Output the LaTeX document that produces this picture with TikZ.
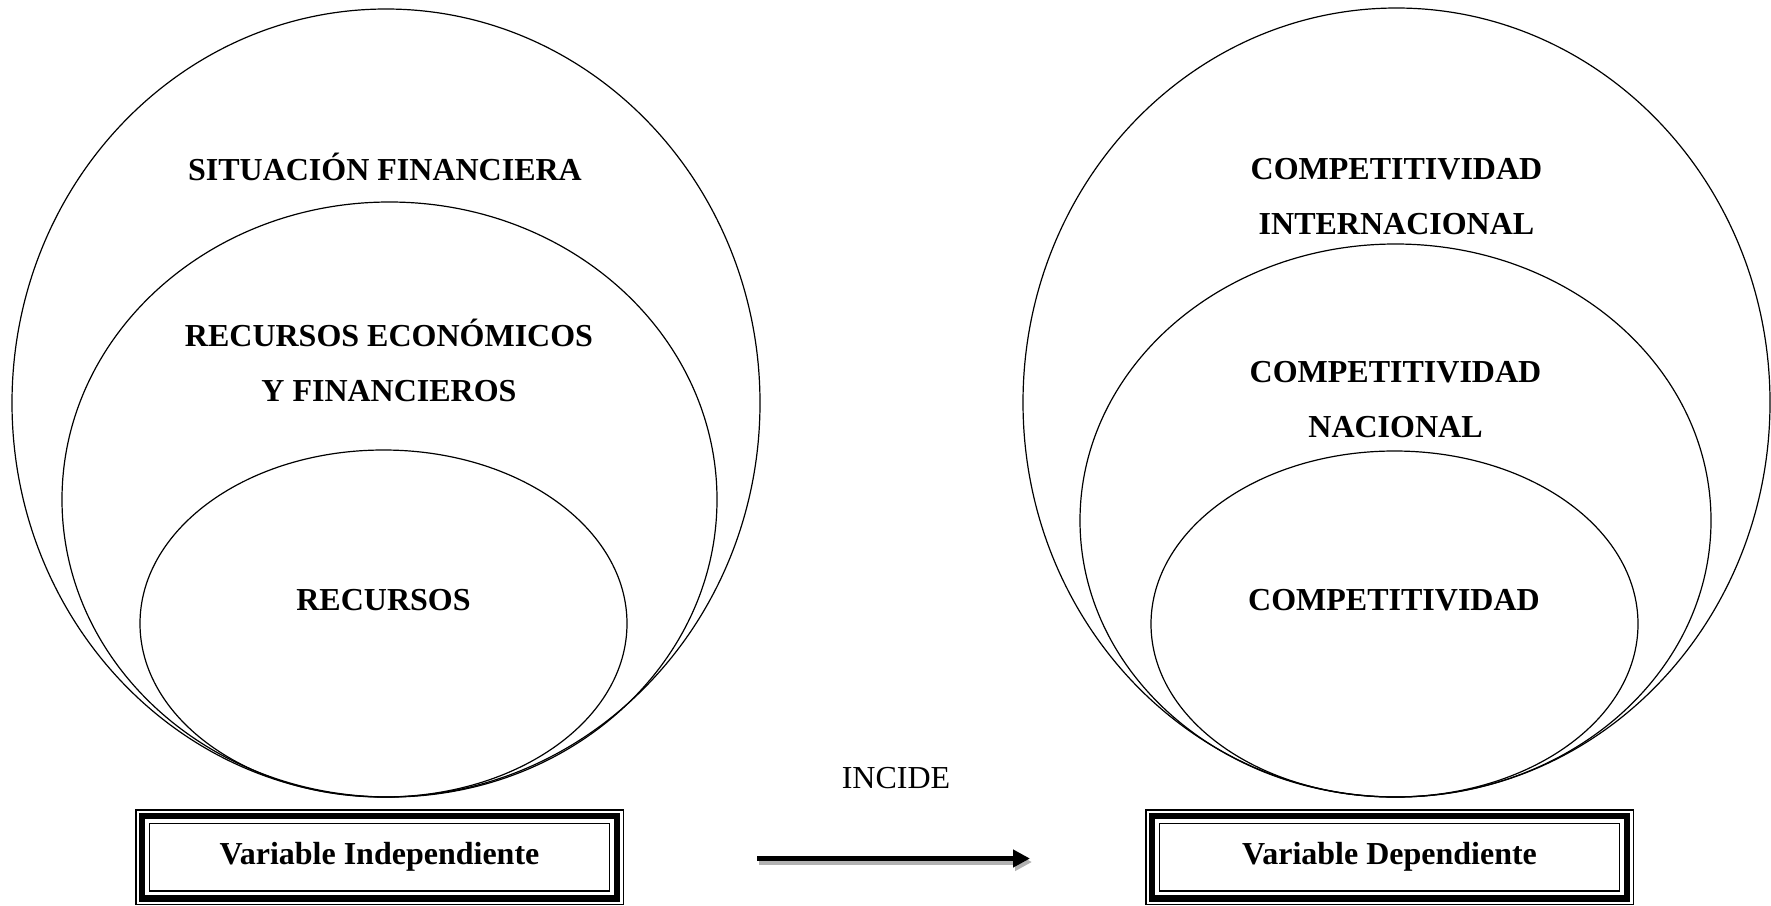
\documentclass[tikz,border=0pt]{standalone}
\usepackage{fontspec}
\setmainfont{Liberation Serif}
\usetikzlibrary{arrows.meta,calc}
\begin{document}
\begin{tikzpicture}[x=0.5pt,y=-0.5pt,
  ring/.style={draw, line width=0.6pt},
  lbl/.style={font=\fontsize{16}{27.5}\selectfont\bfseries, align=center, inner sep=0pt, anchor=base},
  plain/.style={font=\fontsize{16}{19}\selectfont, inner sep=0pt, anchor=base},
  varbox/.style={draw, line width=0.65pt, minimum width=230pt, minimum height=33.75pt,
                 inner sep=0pt, font=\fontsize{16}{19}\selectfont\bfseries},
  heavy/.style={draw, line width=3.2pt},
  thin/.style={draw, line width=0.65pt},
  arrowtip/.style={-{Triangle[length=8.5pt,width=8.5pt]}, line width=2.5pt},
]
\useasboundingbox (0,0) rectangle (1771,905);

% nested sets: independent variable
\draw[ring] (386,403)   ellipse [x radius=187pt,    y radius=197pt];
\draw[ring] (389.5,499.5) ellipse [x radius=163.75pt, y radius=148.75pt];
\draw[ring] (383.5,623.5) ellipse [x radius=121.75pt, y radius=86.75pt];

% nested sets: dependent variable
\draw[ring] (1396.5,402.5) ellipse [x radius=186.75pt, y radius=197.25pt];
\draw[ring] (1395.5,520.5) ellipse [x radius=157.75pt, y radius=138.25pt];
\draw[ring] (1394.5,624)   ellipse [x radius=121.75pt, y radius=86.5pt];

% set labels (base = baseline of the last line)
\node[lbl] (sf)  at (385,180)     {SITUACIÓN FINANCIERA};
\node[lbl] (ref) at (389,401.5)   {RECURSOS ECONÓMICOS\\Y FINANCIEROS};
\node[lbl] (rec) at (383.5,610.5) {RECURSOS};
\node[lbl] (ci)  at (1396.5,234)  {COMPETITIVIDAD\\INTERNACIONAL};
\node[lbl] (cn)  at (1395.5,437.5) {COMPETITIVIDAD\\NACIONAL};
\node[lbl] (cp)  at (1394,610.5)  {COMPETITIVIDAD};

% variable boxes with triple frame
\node[varbox] (vi) at (379.5,857.25)  {Variable Independiente};
\node[varbox] (vd) at (1389.5,857.25) {Variable Dependiente};
\foreach \b in {vi,vd}{
  \draw[heavy] ($(\b.north west)+(-7,-7)$) rectangle ($(\b.south east)+(7,7)$);
  \draw[thin]  ($(\b.north west)+(-13,-13)$) rectangle ($(\b.south east)+(13,13)$);
}

% relation arrow
\node[plain] (inc) at (896,788.5) {INCIDE};
\coordinate (a0) at (757,858.5);
\coordinate (a1) at (1030,858.5);
\draw[arrowtip, black!30] ([shift={(2,3.5)}]a0) -- ([shift={(2,3.5)}]a1);
\draw[arrowtip, black] (a0) -- (a1);
\end{tikzpicture}
\end{document}
